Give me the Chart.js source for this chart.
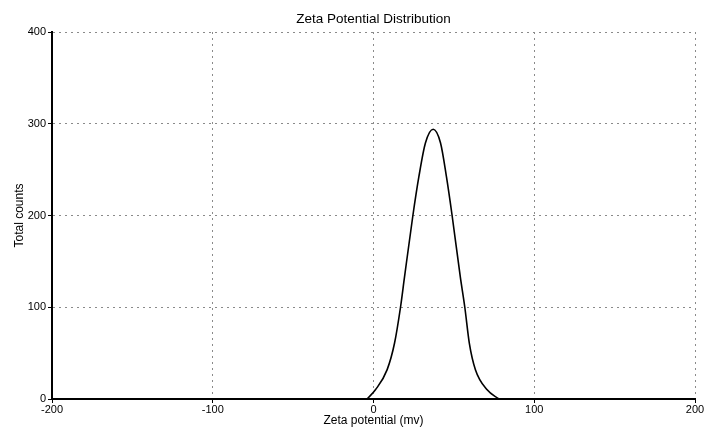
<!DOCTYPE html>
<html>
<head>
<meta charset="utf-8">
<script src="https://cdn.jsdelivr.net/npm/chart.js@4.4.1/dist/chart.umd.min.js"></script>
<style>
  html, body { margin: 0; padding: 0; background: #fff; }
  #wrap { width: 704px; height: 428px; }
</style>
</head>
<body>
<div id="wrap"><canvas id="zeta" width="704" height="428"></canvas></div>
<script>
// values
const zetaMv = [-4, 1.2, 8.5, 13.1, 16.8, 19.3, 24.5, 28.2, 32.3, 37.1, 41.7, 45.4, 48.9, 54.0, 56.8, 59.6, 63.4, 70.7, 78];
const totalCounts = [0, 10, 32, 61, 100, 133, 200, 242, 279, 294, 279, 242, 200, 133, 100, 61, 32, 10, 0];
const xTicks = [-200, -100, 0, 100, 200];
const yTicks = [0, 100, 200, 300, 400];

const points = zetaMv.map((x, i) => ({ x: x, y: totalCounts[i] }));

Chart.defaults.font.family = '"Liberation Sans", Arial, sans-serif';
Chart.defaults.color = '#000';

const gridOpts = {
    color: '#8a8a8a',
    lineWidth: 1,
    tickLength: 4,
    tickColor: '#000',
    tickBorderDash: []
};

new Chart(document.getElementById('zeta'), {
    type: 'line',
    data: {
        datasets: [{
            label: 'Total counts',
            data: points,
            borderColor: '#000',
            borderWidth: 1.6,
            pointRadius: 0,
            fill: false,
            cubicInterpolationMode: 'monotone'
        }]
    },
    options: {
        responsive: false,
        animation: false,
        layout: { padding: 0 },
        plugins: {
            legend: { display: false },
            tooltip: { enabled: false },
            title: {
                display: true,
                text: 'Zeta Potential Distribution',
                fullSize: false,
                font: { size: 13.5, weight: 'normal' },
                color: '#000',
                padding: { top: 11, bottom: 4.8 }
            }
        },
        scales: {
            x: {
                type: 'linear',
                min: xTicks[0],
                max: xTicks[xTicks.length - 1],
                afterBuildTicks: s => { s.ticks = xTicks.map(v => ({ value: v })); },
                afterFit: s => { s.paddingLeft = 0; s.paddingRight = 9; s.height = 29; },
                ticks: { font: { size: 11 }, padding: 0, maxRotation: 0 },
                grid: gridOpts,
                border: { display: true, color: '#000', width: 2, dash: [2, 4] },
                title: { display: true, text: 'Zeta potential (mv)', font: { size: 12 }, padding: { top: 0, bottom: 0 } }
            },
            y: {
                type: 'linear',
                min: yTicks[0],
                max: yTicks[yTicks.length - 1],
                afterBuildTicks: s => { s.ticks = yTicks.map(v => ({ value: v })); },
                afterFit: s => { s.width = 52; },
                ticks: { font: { size: 11 }, padding: 2 },
                grid: gridOpts,
                border: { display: true, color: '#000', width: 2, dash: [2, 4] },
                title: { display: true, text: 'Total counts', font: { size: 12 }, padding: { top: 12, bottom: 0 } }
            }
        }
    }
});
</script>
</body>
</html>
